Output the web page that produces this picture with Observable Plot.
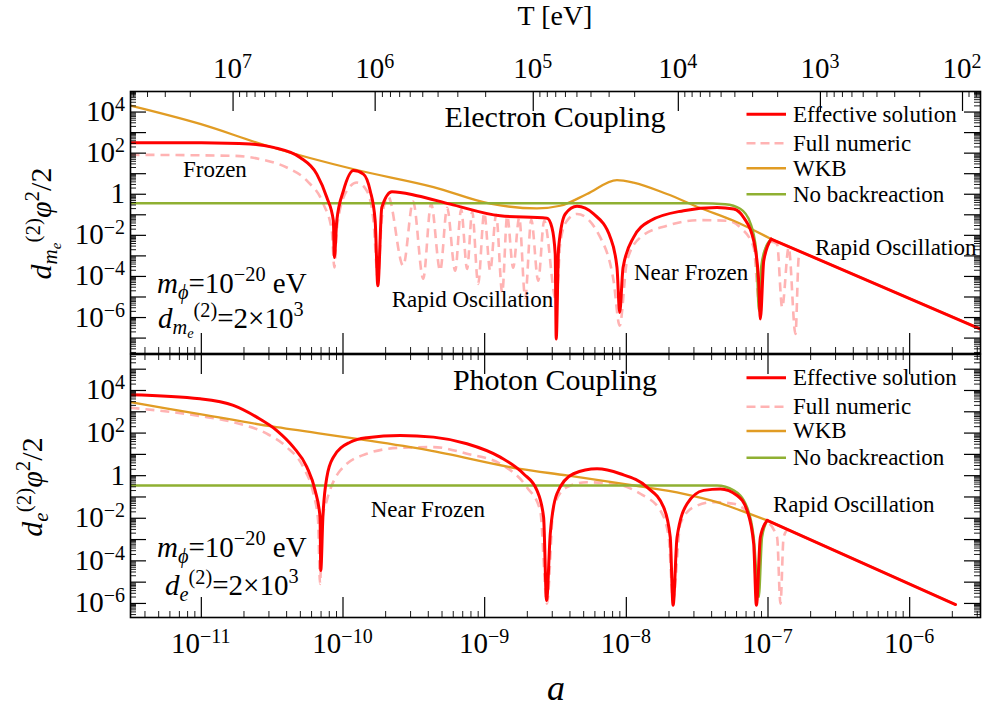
<!DOCTYPE html>
<html><head><meta charset="utf-8">
<script src="https://cdn.jsdelivr.net/npm/d3@7"></script>
<script src="https://cdn.jsdelivr.net/npm/@observablehq/plot@0.6"></script>
<style>
html,body{margin:0;padding:0;background:#fff;}
body{width:987px;height:709px;overflow:hidden;position:relative;font-family:"Liberation Serif",serif;}
#toppanel,#botpanel{position:absolute;left:0;}
#toppanel{top:0;} #botpanel{top:354px;}
svg{display:block;overflow:visible;}
</style></head>
<body><div id="toppanel"></div><div id="botpanel"></div>
<script>
// ---------- colours ----------
const RED = "#ff0000", PINK = "#ffb3b3", ORANGE = "#e19c24", GREEN = "#8fb032";

// ---------- axes ----------
const X_DOMAIN = [10 ** -11.5, 10 ** -5.5];
const TOP_Y_DOMAIN = [10 ** -7.75, 10 ** 5];
const BOT_Y_DOMAIN = [10 ** -6.66, 10 ** 5.69];
const X_TICK_EXPONENTS = [-11, -10, -9, -8, -7, -6];
const Y_TICK_EXPONENTS = [4, 2, 0, -2, -4, -6];
const T_TICK_EXPONENTS = [7, 6, 5, 4, 3, 2];          // T [eV] = 10^e
const T_TICK_LOG_A = [-10.776, -9.773, -8.657, -7.633, -6.630, -5.627]; // log10 a at those T
const LEGEND_LABELS = ["Effective solution", "Full numeric", "WKB", "No backreaction"];

// ---------- series: [log10 a, log10 value] ----------
// Electron coupling (top)
const topRed = [[-11.50,2.51],[-11.00,2.50],[-10.656,2.44],[-10.491,2.28],[-10.303,1.79],[-10.185,0.98],[-10.114,-0.16],[-10.068,-1.29],[-10.061,-3.08],[-10.044,-1.29],[-9.997,0.17],[-9.926,1.15],[-9.856,0.98],[-9.808,0.17],[-9.773,-1.29],[-9.754,-4.45],[-9.726,-0.64],[-9.655,0.12],[-9.478,-0.07],[-9.243,-0.48],[-8.890,-1.05],[-8.560,-1.17],[-8.525,-1.62],[-8.502,-2.91],[-8.495,-7.05],[-8.478,-2.59],[-8.431,-0.96],[-8.348,-0.59],[-8.231,-0.96],[-8.113,-2.10],[-8.066,-3.56],[-8.047,-5.75],[-8.023,-3.56],[-7.949,-2.10],[-7.831,-1.29],[-7.596,-0.80],[-7.360,-0.64],[-7.242,-0.72],[-7.172,-1.13],[-7.101,-2.26],[-7.066,-4.21],[-7.054,-6.07],[-7.030,-3.24],[-6.978,-2.18]];
const topPink = [[-11.50,1.92],[-10.774,1.87],[-10.585,1.71],[-10.397,1.30],[-10.255,0.66],[-10.138,-0.48],[-10.079,-1.78],[-10.061,-3.56],[-10.041,-1.53],[-9.973,0.17],[-9.902,0.57],[-9.832,0.17],[-9.785,-1.29],[-9.754,-4.11],[-9.724,-1.05],[-9.681,-0.12],[-9.575,-3.48],[-9.505,-0.36],[-9.434,-4.11],[-9.378,-0.46],[-9.314,-3.72],[-9.265,-0.66],[-9.208,-3.72],[-9.166,-0.75],[-9.124,-3.63],[-9.088,-0.85],[-9.046,-4.36],[-9.003,-0.90],[-8.961,-3.72],[-8.919,-1.00],[-8.876,-4.79],[-8.841,-1.05],[-8.799,-3.58],[-8.756,-1.14],[-8.714,-5.04],[-8.671,-1.24],[-8.622,-4.21],[-8.580,-1.29],[-8.495,-5.18],[-8.465,-2.30],[-8.420,-1.30],[-8.348,-0.96],[-8.184,-2.10],[-8.090,-4.21],[-8.047,-6.40],[-7.995,-3.24],[-7.901,-2.10],[-7.713,-1.53],[-7.478,-1.26],[-7.289,-1.29],[-7.195,-1.62],[-7.101,-2.59],[-7.064,-5.18],[-7.033,-3.00],[-6.983,-2.31],[-6.936,-2.42],[-6.900,-5.51],[-6.854,-2.59],[-6.806,-6.80],[-6.783,-3.08],[-6.757,-2.84]];
const topOrange = [[-11.50,4.31],[-11.009,3.42],[-10.538,2.36],[-9.902,1.18],[-9.361,0.35],[-8.961,-0.46],[-8.631,-0.69],[-8.467,-0.56],[-8.278,0.01],[-8.066,0.69],[-7.949,0.57],[-7.713,0.01],[-7.478,-0.67],[-7.242,-1.29],[-6.978,-2.18]];
const topGreen = [[-11.50,-0.44],[-7.478,-0.44],[-7.301,-0.49],[-7.196,-0.71],[-7.125,-1.39],[-7.083,-2.75],[-7.064,-5.67],[-7.047,-3.48],[-7.019,-2.65],[-6.978,-2.18]];
const topTail = [[-6.978,-2.18],[-5.500,-6.56]];   // late-time power law shared by WKB and effective solution

// Photon coupling (bottom)
const botRed = [[-11.50,3.80],[-11.009,3.61],[-10.774,3.30],[-10.609,2.75],[-10.467,2.12],[-10.350,1.34],[-10.255,0.40],[-10.197,-0.69],[-10.162,-1.95],[-10.157,-4.45],[-10.142,-1.95],[-10.114,-0.07],[-10.068,0.87],[-9.950,1.57],[-9.832,1.78],[-9.596,1.89],[-9.361,1.81],[-9.125,1.50],[-8.890,0.87],[-8.726,0.09],[-8.631,-0.69],[-8.584,-1.95],[-8.563,-5.86],[-8.537,-2.73],[-8.490,-0.85],[-8.373,0.09],[-8.207,0.32],[-8.043,0.09],[-7.854,-0.54],[-7.737,-1.48],[-7.690,-2.89],[-7.670,-6.09],[-7.642,-2.89],[-7.571,-1.32],[-7.454,-0.69],[-7.336,-0.62],[-7.218,-0.93],[-7.148,-1.63],[-7.101,-3.20],[-7.082,-6.09],[-7.054,-2.89],[-7.006,-2.10]];
const botPink = [[-11.50,3.19],[-11.009,2.80],[-10.774,2.51],[-10.538,1.97],[-10.397,1.34],[-10.280,0.40],[-10.209,-0.85],[-10.176,-2.10],[-10.162,-5.08],[-10.147,-2.10],[-10.114,-1.16],[-10.020,0.24],[-9.832,1.03],[-9.596,1.31],[-9.361,1.34],[-9.125,1.03],[-8.890,0.56],[-8.702,-0.54],[-8.608,-1.63],[-8.560,-6.01],[-8.514,-1.48],[-8.419,-0.54],[-8.278,-0.31],[-8.090,-0.38],[-7.901,-0.85],[-7.760,-1.63],[-7.701,-2.89],[-7.670,-5.86],[-7.619,-2.26],[-7.525,-1.48],[-7.384,-1.24],[-7.242,-1.32],[-7.148,-1.73],[-7.103,-3.04],[-7.078,-5.86],[-7.054,-3.04],[-7.011,-2.20],[-6.936,-2.89],[-6.912,-6.01],[-6.890,-2.90],[-6.863,-2.53]];
const botOrange = [[-11.50,3.45],[-11.00,2.88],[-10.50,2.31],[-9.90,1.73],[-9.40,1.20],[-8.75,0.32],[-8.42,0.01],[-7.949,-0.46],[-7.595,-0.85],[-7.360,-1.24],[-7.195,-1.63],[-7.006,-2.10]];
const botGreen = [[-11.50,-0.46],[-7.360,-0.46],[-7.242,-0.69],[-7.148,-1.48],[-7.101,-2.89],[-7.065,-5.70],[-7.042,-2.89],[-7.006,-2.12]];
const botTail = [[-7.006,-2.10],[-5.676,-6.05]];

// ---------- helpers ----------
const SERIF = "'Liberation Serif','Times New Roman',serif";
function rich(g, x, y, segs, {size = 23, anchor = "start", rotate = null, italic = false} = {}) {
  const t = g.append("text").attr("font-size", size).attr("text-anchor", anchor).attr("fill", "#000");
  if (italic) t.attr("font-style", "italic");
  if (rotate != null) t.attr("transform", `translate(${x},${y}) rotate(${rotate})`);
  else t.attr("x", x).attr("y", y);
  let cur = 0;
  for (const s of segs) {
    const sh = s.shift || 0;
    const ts = t.append("tspan").attr("dy", sh - cur).text(s.t);
    if (s.size) ts.attr("font-size", s.size * size);
    if (s.it) ts.attr("font-style", "italic");
    if (s.dx) ts.attr("dx", s.dx);
    cur = sh;
  }
  return t;
}
function powSegs(e) {
  if (e === 0) return [{t: "1"}];
  return [{t: "10"}, {t: (e < 0 ? "\u2212" : "") + Math.abs(e), size: 0.69, shift: -10}];
}

function panel(cfg) {
  const W = 987, ML = 130, MR = 7;
  const FW = W - ML - MR, FH = cfg.height - cfg.mt - cfg.mb;
  const [x0, x1] = X_DOMAIN, [y0, y1] = cfg.ydom;
  const inX = v => v > x0 * 1.0001 && v < x1 * 0.9999;
  const inY = v => v > y0 * 1.0001 && v < y1 * 0.9999;
  const xMaj = [], xMin = [], yMaj = [], yMin = [];
  for (let e = -13; e <= -4; e++) {
    if (inX(10 ** e)) xMaj.push(10 ** e);
    for (let k = 2; k <= 9; k++) { const v = k * 10 ** e; if (inX(v)) xMin.push(v); }
  }
  for (let e = -9; e <= 7; e++) {
    if (inY(10 ** e)) yMaj.push(10 ** e);
    for (let k = 2; k <= 9; k++) { const v = k * 10 ** e; if (inY(v)) yMin.push(v); }
  }
  let topMaj = xMaj, topMin = xMin;
  if (cfg.tAxis) {
    topMaj = T_TICK_LOG_A.map(l => 10 ** l).filter(inX);
    topMin = [];
    const n = T_TICK_LOG_A.length;
    for (let i = 0; i < n - 1; i++) {
      const lh = T_TICK_LOG_A[i], ll = T_TICK_LOG_A[i + 1];
      for (let k = 2; k <= 9; k++) topMin.push(10 ** (lh + (1 - Math.log10(k)) * (ll - lh)));
    }
    const d0 = T_TICK_LOG_A[1] - T_TICK_LOG_A[0], d1 = T_TICK_LOG_A[n - 1] - T_TICK_LOG_A[n - 2];
    for (let k = 2; k <= 9; k++) {
      topMin.push(10 ** (T_TICK_LOG_A[0] - Math.log10(k) * d0));
      topMin.push(10 ** (T_TICK_LOG_A[n - 1] + (1 - Math.log10(k)) * d1));
    }
    topMin = topMin.filter(inX);
  }
  const pts = arr => arr.map(([la, lv]) => ({a: 10 ** la, v: 10 ** lv}));
  const line = (arr, o) => Plot.line(pts(arr), {x: "a", y: "v", curve: "monotone-x", clip: true, ...o});
  const tk = {stroke: "#000", strokeWidth: 1.2};
  const tm = {stroke: "#000", strokeWidth: 0.9};
  const fig = Plot.plot({
    width: W, height: cfg.height,
    marginLeft: ML, marginRight: MR, marginTop: cfg.mt, marginBottom: cfg.mb,
    style: {fontFamily: SERIF, background: "transparent", overflow: "visible"},
    x: {type: "log", domain: X_DOMAIN, axis: null},
    y: {type: "log", domain: cfg.ydom, axis: null},
    marks: [
      line(cfg.pink, {stroke: PINK, strokeWidth: 2.6, strokeDasharray: "9,6", strokeLinecap: "butt"}),
      line(cfg.orange, {stroke: ORANGE, strokeWidth: 2.3}),
      line(cfg.tail, {stroke: ORANGE, strokeWidth: 2.3, curve: "linear"}),
      line(cfg.green, {stroke: GREEN, strokeWidth: 2.4}),
      line(cfg.red, {stroke: RED, strokeWidth: 3}),
      line(cfg.tail, {stroke: RED, strokeWidth: 3, curve: "linear"}),
      Plot.ruleX(xMaj, {insetTop: FH - 20, ...tk}),
      Plot.ruleX(xMin, {insetTop: FH - 6, ...tm}),
      Plot.ruleX(topMaj, {insetBottom: FH - 20, ...tk}),
      Plot.ruleX(topMin, {insetBottom: FH - 6, ...tm}),
      Plot.ruleY(yMaj, {insetRight: FW - 16, ...tk}),
      Plot.ruleY(yMin, {insetRight: FW - 6, ...tm}),
      Plot.ruleY(yMaj, {insetLeft: FW - 16, ...tk}),
      Plot.ruleY(yMin, {insetLeft: FW - 6, ...tm}),
      Plot.frame({stroke: "#000", strokeWidth: 1.6})
    ]
  });
  const sx = fig.scale("x"), sy = fig.scale("y");
  const g = d3.select(fig).append("g").attr("font-family", SERIF);
  for (const e of Y_TICK_EXPONENTS) rich(g, 125, sy.apply(10 ** e) + 9.5, powSegs(e), {size: 29, anchor: "end"});
  LEGEND_LABELS.forEach((lab, i) => {
    const ly = cfg.legendY[i];
    const col = [RED, PINK, ORANGE, GREEN][i];
    const ln = g.append("line").attr("x1", 746.5).attr("x2", 786).attr("y1", ly).attr("y2", ly)
      .attr("stroke", col).attr("stroke-width", i === 0 ? 3 : 2.6);
    if (i === 1) ln.attr("stroke-dasharray", "9,5");
    rich(g, 793, ly + 7.4, [{t: lab}], {size: 23});
  });
  return {fig, g, sx, sy};
}

// ---------- top panel ----------
const topP = panel({height: 354, mt: 91, mb: 1, ydom: TOP_Y_DOMAIN, tAxis: true,
  red: topRed, pink: topPink, orange: topOrange, green: topGreen, tail: topTail,
  legendY: [114.3, 143.3, 168.3, 194.3]});
document.getElementById("toppanel").appendChild(topP.fig);
{
  const {g, sx} = topP;
  T_TICK_EXPONENTS.forEach((e, i) => rich(g, sx.apply(10 ** T_TICK_LOG_A[i]), 78, powSegs(e), {size: 29, anchor: "middle"}));
  rich(g, 555, 25, [{t: "T [eV]"}], {size: 28, anchor: "middle"});
  rich(g, 555, 127, [{t: "Electron Coupling"}], {size: 30, anchor: "middle"});
  rich(g, 183, 176.7, [{t: "Frozen"}], {size: 23});
  rich(g, 391.7, 306.7, [{t: "Rapid Oscillation"}], {size: 23});
  rich(g, 634, 280, [{t: "Near Frozen"}], {size: 23});
  rich(g, 815, 255, [{t: "Rapid Oscillation"}], {size: 23});
  rich(g, 157, 293.3, [{t: "m", it: true}, {t: "\u03D5", it: true, size: 0.7, shift: 6}, {t: "=10"}, {t: "\u221220", size: 0.7, shift: -12}, {t: " eV"}], {size: 29});
  rich(g, 158, 328.3, [{t: "d", it: true}, {t: "m", it: true, size: 0.7, shift: 6}, {t: "e", it: true, size: 0.5, shift: 10}, {t: "(2)", size: 0.7, shift: -11}, {t: "=2\u00D710"}, {t: "3", size: 0.7, shift: -12}], {size: 29});
  rich(g, 51, 223.5, [{t: "d", it: true}, {t: "m", it: true, size: 0.7, shift: 6}, {t: "e", it: true, size: 0.5, shift: 10}, {t: "(2)", size: 0.7, shift: -11}, {t: "\u03C6", it: true}, {t: "2", size: 0.7, shift: -12}, {t: "/2"}], {size: 30, anchor: "middle", rotate: -90});
}

// ---------- bottom panel ----------
const botP = panel({height: 355, mt: 0, mb: 92, ydom: BOT_Y_DOMAIN, tAxis: false,
  red: botRed, pink: botPink, orange: botOrange, green: botGreen, tail: botTail,
  legendY: [377.7 - 354, 406.7 - 354, 431 - 354, 457.7 - 354]});
document.getElementById("botpanel").appendChild(botP.fig);
{
  const {g, sx} = botP;
  X_TICK_EXPONENTS.forEach(e => rich(g, sx.apply(10 ** e), 653 - 354, powSegs(e), {size: 29, anchor: "middle"}));
  rich(g, 556, 700 - 354, [{t: "a"}], {size: 36, anchor: "middle", italic: true});
  rich(g, 555, 390 - 354, [{t: "Photon Coupling"}], {size: 30, anchor: "middle"});
  rich(g, 370.7, 516.7 - 354, [{t: "Near Frozen"}], {size: 23});
  rich(g, 773, 512.3 - 354, [{t: "Rapid Oscillation"}], {size: 23});
  rich(g, 157, 556.7 - 354, [{t: "m", it: true}, {t: "\u03D5", it: true, size: 0.7, shift: 6}, {t: "=10"}, {t: "\u221220", size: 0.7, shift: -12}, {t: " eV"}], {size: 29});
  rich(g, 165, 595 - 354, [{t: "d", it: true}, {t: "e", it: true, size: 0.7, shift: 6}, {t: "(2)", size: 0.7, shift: -11}, {t: "=2\u00D710"}, {t: "3", size: 0.7, shift: -12}], {size: 29});
  rich(g, 42, 487 - 354, [{t: "d", it: true}, {t: "e", it: true, size: 0.7, shift: 6}, {t: "(2)", size: 0.7, shift: -11}, {t: "\u03C6", it: true}, {t: "2", size: 0.7, shift: -12}, {t: "/2"}], {size: 30, anchor: "middle", rotate: -90});
}
</script>
</body></html>
